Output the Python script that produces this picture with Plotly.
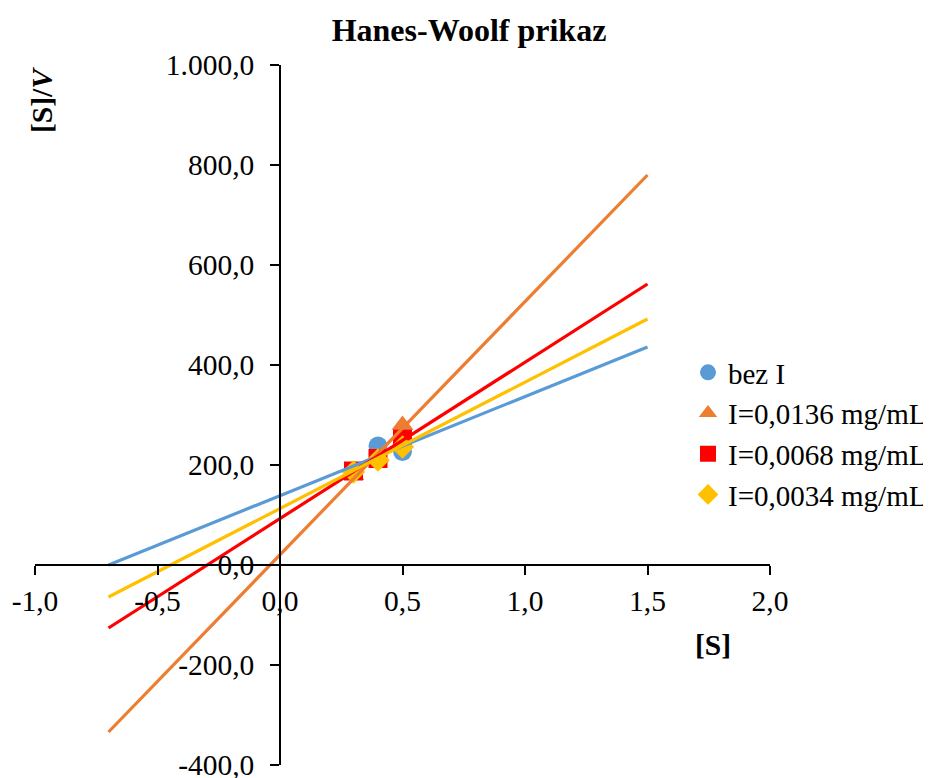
import plotly.graph_objects as go

# Data
s_vals = [0.3, 0.4, 0.5]
bez_i = [188, 238, 227]
i_0136 = [180, 215, 280]
i_0068 = [188, 213, 252]
i_0034 = [186, 210, 236]

trend_x = [-0.7, 1.5]
trend_bez_i = [0, 436]
trend_0136 = [-334, 780]
trend_0068 = [-126, 562]
trend_0034 = [-64, 492]

x_tickvals = [-1.0, -0.5, 0.0, 0.5, 1.0, 1.5, 2.0]
x_ticktext = ["-1,0", "-0,5", "0,0", "0,5", "1,0", "1,5", "2,0"]
y_tickvals = [-400, -200, 0, 200, 400, 600, 800, 1000]
y_ticktext = ["-400,0", "-200,0", "0,0", "200,0", "400,0", "600,0", "800,0", "1.000,0"]

names = ["bez I", "I=0,0136 mg/mL", "I=0,0068 mg/mL", "I=0,0034 mg/mL"]
colors = ["#5B9BD5", "#ED7D31", "#FF0000", "#FFC000"]
symbols = ["circle", "triangle-up", "square", "diamond"]
sizes = [19, 19, 19, 18]
series = [bez_i, i_0136, i_0068, i_0034]
trends = [trend_bez_i, trend_0136, trend_0068, trend_0034]

FONT = "Liberation Serif, Times New Roman, serif"
FS = 29.5
OFF = 8  # page body margin

fig = go.Figure()
for n, c, sym, sz, ys in zip(names, colors, symbols, sizes, series):
    fig.add_trace(go.Scatter(x=s_vals, y=ys, mode="markers", name=n, legendgroup=n,
                             marker=dict(color=c, symbol=sym, size=sz, line=dict(width=0))))
for n, c, ty in zip(names, colors, trends):
    fig.add_trace(go.Scatter(x=trend_x, y=ty, mode="lines", showlegend=False, legendgroup=n,
                             line=dict(color=c, width=3.2), hoverinfo="skip"))

L, R, T, B = 35 - OFF, 931 - (770 - OFF), 65 - OFF, 778 - (765 - OFF)

fig.update_layout(
    width=931, height=778,
    margin=dict(l=L, r=R, t=T, b=B, autoexpand=False),
    paper_bgcolor="white", plot_bgcolor="white",
    font=dict(family=FONT, size=FS, color="black"),
    title=dict(text="<b>Hanes-Woolf prikaz</b>", x=(469 - OFF) / 931, xanchor="center",
               y=1 - (30 - OFF) / 778, yanchor="middle", yref="container",
               font=dict(family=FONT, size=32, color="black")),
    xaxis=dict(range=[-1, 2], tickvals=x_tickvals, ticktext=x_ticktext,
               showgrid=False, zeroline=False, showline=True, linecolor="black", linewidth=1.5,
               ticks="outside", ticklen=9, tickwidth=1.5, tickcolor="black",
               anchor="free", position=400 / 1400, ticklabelstandoff=1, automargin=False,
               tickfont=dict(family=FONT, size=FS, color="black")),
    yaxis=dict(range=[-400, 1000], tickvals=y_tickvals, ticktext=y_ticktext,
               showgrid=False, zeroline=False, showline=True, linecolor="black", linewidth=1.5,
               ticks="outside", ticklen=9, tickwidth=1.5, tickcolor="black",
               anchor="free", position=1 / 3, ticklabelstandoff=10, automargin=False,
               tickfont=dict(family=FONT, size=FS, color="black")),
    legend=dict(x=(688 - 35) / 735, y=(765 - 347) / 700, xanchor="left", yanchor="top",
                xref="paper", yref="paper", tracegroupgap=0,
                font=dict(family=FONT, size=29, color="black"),
                bgcolor="rgba(0,0,0,0)", itemwidth=30),
    showlegend=True,
    annotations=[
        dict(text="<b>[S]/<i>V</i></b>", textangle=-90, x=(42 - 35) / 735, y=(765 - 100) / 700,
             xref="paper", yref="paper", xanchor="center", yanchor="middle", showarrow=False,
             font=dict(family=FONT, size=FS, color="black")),
        dict(text="<b>[S]</b>", x=(713 - 35) / 735, y=(765 - 645) / 700,
             xref="paper", yref="paper", xanchor="center", yanchor="middle", showarrow=False,
             font=dict(family=FONT, size=FS, color="black")),
    ],
)

fig.write_html("out.html")
